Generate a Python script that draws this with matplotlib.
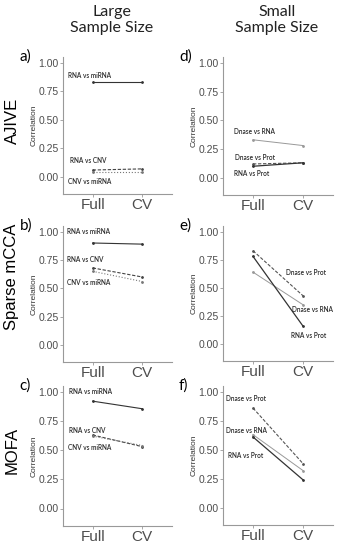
import matplotlib.pyplot as plt

# categories on the x axis
conditions = ["Full", "CV"]

# large sample size (left column): RNA vs miRNA, RNA vs CNV, CNV vs miRNA
large_pairs = ["RNA vs miRNA", "RNA vs CNV", "CNV vs miRNA"]
ajive_large = [[0.83, 0.83], [0.06, 0.07], [0.04, 0.04]]
smcca_large = [[0.90, 0.89], [0.68, 0.60], [0.65, 0.56]]
mofa_large = [[0.92, 0.855], [0.63, 0.53], [0.62, 0.54]]

# small sample size (right column): Dnase vs RNA, Dnase vs Prot, RNA vs Prot
small_pairs = ["Dnase vs RNA", "Dnase vs Prot", "RNA vs Prot"]
ajive_small = [[0.33, 0.28], [0.12, 0.13], [0.10, 0.13]]
smcca_small = [[0.64, 0.35], [0.83, 0.43], [0.78, 0.16]]
mofa_small = [[0.63, 0.32], [0.86, 0.38], [0.61, 0.24]]

methods = ["AJIVE", "Sparse mCCA", "MOFA"]
panel_letters = [["a)", "d)"], ["b)", "e)"], ["c)", "f)"]]

# label anchor (left x, y in data units) for each panel
large_label_pos = [
    [(0.50, 0.89), (0.54, 0.14), (0.50, -0.04)],
    [(0.48, 1.00), (0.48, 0.75), (0.48, 0.55)],
    [(0.52, 1.00), (0.52, 0.67), (0.50, 0.52)],
]
small_label_pos = [
    [(0.62, 0.40), (0.64, 0.18), (0.62, 0.035)],
    [(1.78, 0.31), (1.66, 0.64), (1.76, 0.08)],
    [(0.46, 0.67), (0.46, 0.94), (0.50, 0.45)],
]

large_styles = [dict(color="#333333", ls="-", lw=0.8),
                dict(color="#444444", ls=(0, (3, 1.5)), lw=0.8),
                dict(color="#777777", ls=":", lw=0.8)]
small_styles = [dict(color="#999999", ls="-", lw=0.7),
                dict(color="#555555", ls=(0, (3, 1.5)), lw=0.8),
                dict(color="#333333", ls="-", lw=0.9)]

W, H = 339, 542
fig = plt.figure(figsize=(W / 100, H / 100), dpi=100)

# axes boxes in pixels: left, right, top, bottom
boxes = [
    [(63, 172, 57, 194), (223, 333, 57, 195)],
    [(63, 172, 226, 362), (223, 333, 226, 361)],
    [(63, 172, 386, 526), (223, 333, 386, 525)],
]

large_data = [ajive_large, smcca_large, mofa_large]
small_data = [ajive_small, smcca_small, mofa_small]

for r in range(3):
    for c in range(2):
        l, rr, t, b = boxes[r][c]
        ax = fig.add_axes([l / W, 1 - b / H, (rr - l) / W, (b - t) / H])
        if c == 0:
            data, pairs, styles, pos = large_data[r], large_pairs, large_styles, large_label_pos[r]
        else:
            data, pairs, styles, pos = small_data[r], small_pairs, small_styles, small_label_pos[r]
        x = [1, 2]
        for vals, st in zip(data, styles):
            ax.plot(x, vals, marker="o", ms=1.0, mec=st["color"], mfc=st["color"], **st)
        for name, (px, py) in zip(pairs, pos):
            ax.text(px, py, name, fontsize=4.7, color="#2a2a2a", ha="left", va="center",
                    family="Lato", weight="semibold")
        ax.set_xlim(0.4, 2.6)
        ax.set_ylim(-0.15, 1.05)
        ax.set_xticks(x)
        ax.set_xticklabels(conditions, fontsize=11, color="#4d4d4d", family="Liberation Sans")
        ax.set_yticks([0, 0.25, 0.5, 0.75, 1.0])
        ax.set_yticklabels(["0.00", "0.25", "0.50", "0.75", "1.00"], fontsize=7.5,
                           color="#4d4d4d", family="Liberation Sans")
        ax.tick_params(axis="y", length=2, width=0.6, color="#999999", pad=1)
        ax.tick_params(axis="x", length=2, width=0.6, color="#999999", pad=1)
        for s in ["top", "right"]:
            ax.spines[s].set_visible(False)
        for s in ["left", "bottom"]:
            ax.spines[s].set_color("#999999")
            ax.spines[s].set_linewidth(0.8)
        ax.set_ylabel("Correlation", fontsize=6, color="#333333", family="Liberation Sans",
                      labelpad=1)
        # panel letter
        ax.text(-0.4, 1.0, panel_letters[r][c], transform=ax.transAxes, fontsize=11,
                ha="left", va="center", family="Lato")

# row labels
row_centers = [121, 277, 450]
for name, yc in zip(methods, row_centers):
    fig.text(12 / W, 1 - yc / H, name, rotation=90, fontsize=12, ha="center", va="center",
             family="Liberation Sans")

# column headers
fig.text(112 / W, 1 - 20 / H, "Large\nSample Size", fontsize=11.5, ha="center", va="center",
         family="Lato", color="#222222", linespacing=1.1)
fig.text(277 / W, 1 - 20 / H, "Small\nSample Size", fontsize=11.5, ha="center", va="center",
         family="Lato", color="#222222", linespacing=1.1)

fig.savefig("out.png", dpi=100)
